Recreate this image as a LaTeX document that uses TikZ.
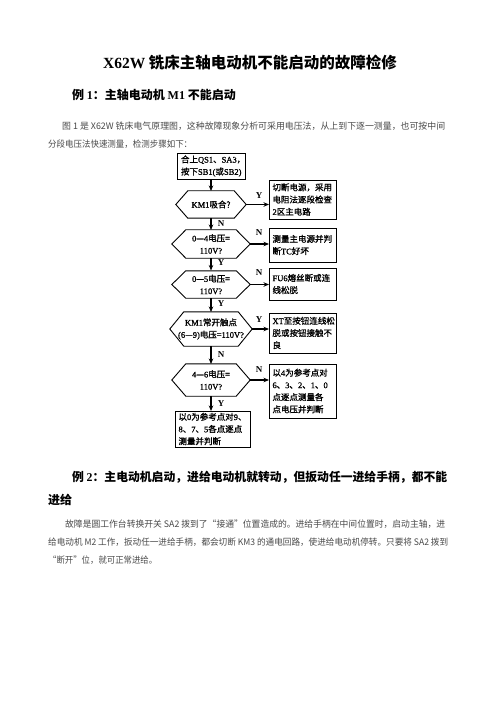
\documentclass[tikz,border=0pt]{standalone}
\usepackage{fontspec}
\usepackage{graphicx}
\setmainfont{Noto Sans CJK SC}
\newfontfamily\ser{Liberation Serif}
\newfontfamily\fcf[FakeBold=1.2]{Noto Sans CJK SC}
\newfontfamily\fcs[FakeBold=1.2]{Liberation Serif}
\newcommand\sr[1]{{\ser #1}}
\newcommand\fs[1]{{\fcs #1}}
\newcommand\fitw[2]{\resizebox{#1}{\height}{#2}}
\usetikzlibrary{arrows.meta}
\definecolor{bodygray}{HTML}{4A4A4A}
\newcommand\hexdraw[2]{\draw[fline] (#1.west) -- ([xshift=#2]#1.north west) -- ([xshift=-#2]#1.north east) -- (#1.east) -- ([xshift=-#2]#1.south east) -- ([xshift=#2]#1.south west) -- cycle;}
\begin{document}
\begin{tikzpicture}[x=1pt,y=-1pt,
  fline/.style={line width=0.9pt, draw=black},
  fc/.style={font=\fcf\fontsize{8.5}{12.2}\selectfont, inner sep=0pt},
  rbox/.style={fc, draw, fline, align=left, text width=#1},
  hexa/.style={fc, align=center},
  yn/.style={font=\ser\bfseries\fontsize{9}{10}\selectfont, inner sep=0pt},
  conn/.style={black, line width=1.2pt, -{Stealth[length=5.5pt,width=4.5pt]}},
  body/.style={font=\fontsize{9}{10}\selectfont, text=bodygray, inner sep=0pt, anchor=west},
  head/.style={font=\bfseries\fontsize{12}{14}\selectfont, inner sep=0pt, anchor=west}
]
\useasboundingbox (0,0) rectangle (500,708);
\fill[white] (0,0) rectangle (500,708);

% connector end points
\coordinate (v1s) at (211,179);   \coordinate (v1e) at (211,191);
\coordinate (v2s) at (211,218);   \coordinate (v2e) at (211,230);
\coordinate (v3s) at (211,258);   \coordinate (v3e) at (211,270.5);
\coordinate (v4s) at (211,298);   \coordinate (v4e) at (211,312);
\coordinate (v5s) at (211,346);   \coordinate (v5e) at (211,364);
\coordinate (v6s) at (211,396);   \coordinate (v6e) at (211,411);
\coordinate (h1s) at (246,204.5); \coordinate (h1e) at (269,204.5);
\coordinate (h2s) at (250,244);   \coordinate (h2e) at (269,244);
\coordinate (h3s) at (250,284.5); \coordinate (h3e) at (269,284.5);
\coordinate (h4s) at (252,329);   \coordinate (h4e) at (269,329);
\coordinate (h5s) at (250,380);   \coordinate (h5e) at (269,380);

% connectors
\draw[conn] (v1s) -- (v1e);
\draw[conn] (v2s) -- (v2e);
\draw[conn] (v3s) -- (v3e);
\draw[conn] (v4s) -- (v4e);
\draw[conn] (v5s) -- (v5e);
\draw[conn] (v6s) -- (v6e);
\draw[conn] (h1s) -- (h1e);
\draw[conn] (h2s) -- (h2e);
\draw[conn] (h3s) -- (h3e);
\draw[conn] (h4s) -- (h4e);
\draw[conn] (h5s) -- (h5e);

% title and text
\node[font=\bfseries\fontsize{15.5}{18}\selectfont, inner sep=0pt] (title) at (250,63) {\sr{X62W} 铣床主轴电动机不能启动的故障检修};
\node[head] (h1) at (72,95) {例 \sr{1}：主轴电动机 \sr{M1} 不能启动};
\node[body] (p1) at (62,126) {\fitw{383pt}{图 1 是 X62W 铣床电气原理图，这种故障现象分析可采用电压法，从上到下逐一测量，也可按中间}};
\node[body] (p2) at (48,144) {\fitw{144pt}{分段电压法快速测量，检测步骤如下：}};

% flowchart boxes
\node[rbox=60pt, minimum width=68, minimum height=26] (b0) at (211,166) {合上\fs{QS1}、\fs{SA3}，\\按下\fs{SB1(}或\fs{SB2)}};
\node[rbox=60pt, minimum width=67, minimum height=39] (r1) at (302.5,199.5) {切断电源，采用\\电阻法逐段检查\\\fs{2}区主电路};
\node[rbox=60pt, minimum width=67, minimum height=34] (r2) at (302.5,245) {测量主电源并判\\断\fs{TC}好坏};
\node[rbox=60pt, minimum width=67, minimum height=32] (r3) at (302.5,284) {\fs{FU6}熔丝断或连\\线松脱};
\node[rbox=60pt, minimum width=67, minimum height=40] (r4) at (302.5,333) {\fs{XT}至按钮连线松\\脱或按钮接触不\\良};
\node[rbox=60pt, minimum width=67, minimum height=54] (r5) at (302.5,391) {以\fs{4}为参考点对\\\fs{6}、\fs{3}、\fs{2}、\fs{1}、\fs{0}\\点逐点测量各\\点电压并判断};
\node[rbox=68pt, minimum width=75, minimum height=36] (b6) at (212.5,429) {以\fs{0}为参考点对\fs{9}、\\\fs{8}、\fs{7}、\fs{5}各点逐点\\测量并判断};

% decisions
\node[hexa, minimum width=70, minimum height=27] (d1) at (211,204.5) {\fs{KM1}吸合?};
\node[hexa, minimum width=78, minimum height=28] (d2) at (211,244) {\fs{0}—\fs{4}电压=\\\fs{110V?}};
\node[hexa, minimum width=78, minimum height=27] (d3) at (211,284.5) {\fs{0}—\fs{5}电压=\\\fs{110V?}};
\node[hexa, minimum width=82, minimum height=34] (d4) at (211,329) {\fs{KM1}常开触点\\\fs{(6}—\fs{9)}电压=\fs{110V?}};
\node[hexa, minimum width=78, minimum height=32] (d5) at (211,380) {\fs{4}—\fs{6}电压=\\\fs{110V?}};
\hexdraw{d1}{12}
\hexdraw{d2}{14}
\hexdraw{d3}{14}
\hexdraw{d4}{14}
\hexdraw{d5}{14}

% labels
\node[yn] (l1) at (259,196) {Y};
\node[yn] (l2) at (221,224) {N};
\node[yn] (l3) at (259,233) {N};
\node[yn] (l4) at (221,263) {Y};
\node[yn] (l5) at (259,273) {N};
\node[yn] (l6) at (221,304) {Y};
\node[yn] (l7) at (259,320) {Y};
\node[yn] (l8) at (221,355) {N};
\node[yn] (l9) at (259,370) {N};
\node[yn] (l10) at (221,404) {Y};

% example 2
\node[head] (h2) at (72,477) {\fitw{375pt}{例 \sr{2}：主电动机启动，进给电动机就转动，但扳动任一进给手柄，都不能}};
\node[head] (h2b) at (48,500) {进给};
\node[body] (q1) at (65,524) {\fitw{380pt}{故障是圆工作台转换开关 SA2 拨到了“接通”位置造成的。进给手柄在中间位置时，启动主轴，进}};
\node[body] (q2) at (48,542) {\fitw{400pt}{给电动机 M2 工作，扳动任一进给手柄，都会切断 KM3 的通电回路，使进给电动机停转。只要将 SA2 拨到}};
\node[body] (q3) at (48,560) {\fitw{109pt}{“断开”位，就可正常进给。}};
\end{tikzpicture}
\end{document}
